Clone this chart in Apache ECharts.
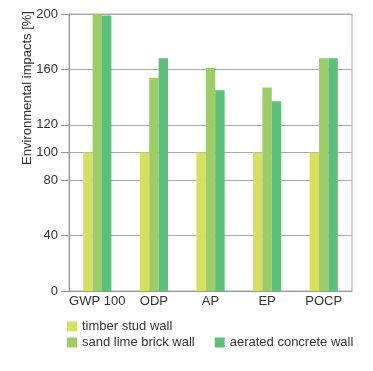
<!DOCTYPE html>
<html><head><meta charset="utf-8">
<script src="https://cdn.jsdelivr.net/npm/echarts@6/dist/echarts.min.js"></script>
<style>html,body{margin:0;padding:0;background:#fff}#c{width:373px;height:371px}</style>
</head><body><div id="c"></div>
<script>
const categories = ['GWP 100', 'ODP', 'AP', 'EP', 'POCP'];
const timberStud = [100, 100, 100, 100, 100];
const sandLime = [200, 154, 161, 147, 168];
const aeratedConcrete = [199, 168, 145, 137, 168];
const yTicks = [0, 40, 80, 100, 120, 160, 200];
const seriesNames = ['timber stud wall', 'sand lime brick wall', 'aerated concrete wall'];
const colors = ['#d6df62', '#9dcc6b', '#5dbf79'];
const FONT = 'Liberation Sans, Arial, sans-serif';

const chart = echarts.init(document.getElementById('c'));
chart.setOption({
  animation: false,
  textStyle: { fontFamily: FONT },
  grid: { left: 69, right: 21, top: 14, bottom: 80, show: true, borderColor: '#aaa', borderWidth: 1 },
  graphic: [{
    type: 'text', x: 27, y: 88, rotation: Math.PI / 2,
    style: { text: 'Environmental impacts [%]', fontSize: 13, fontFamily: FONT, fill: '#333', align: 'center', verticalAlign: 'middle' }
  }],
  legend: [
    { data: [seriesNames[0]], left: 62, top: 315, itemWidth: 10, itemHeight: 10, icon: 'rect', itemGap: 20,
      textStyle: { fontSize: 13, color: '#333', fontFamily: FONT } },
    { data: [seriesNames[1], seriesNames[2]], left: 62, top: 331, itemWidth: 10, itemHeight: 10, icon: 'rect', itemGap: 20,
      textStyle: { fontSize: 13, color: '#333', fontFamily: FONT } }
  ],
  xAxis: {
    type: 'category', data: categories,
    axisTick: { show: false },
    axisLine: { lineStyle: { color: '#999' } },
    axisLabel: { fontSize: 13, color: '#333', margin: 4, interval: 0 }
  },
  yAxis: {
    type: 'value', min: 0, max: 200,
    axisLine: { show: true, lineStyle: { color: '#999' } },
    axisTick: { show: true, length: 8, customValues: yTicks, lineStyle: { color: '#999' } },
    axisLabel: { customValues: yTicks, fontSize: 13, color: '#333', margin: 11 },
    splitLine: { show: true, lineStyle: { color: '#aaa' } }
  },
  series: [
    { name: seriesNames[0], type: 'bar', data: timberStud, barWidth: 9.4, barGap: '0%', itemStyle: { color: colors[0] } },
    { name: seriesNames[1], type: 'bar', data: sandLime, barWidth: 9.4, barGap: '0%', itemStyle: { color: colors[1] } },
    { name: seriesNames[2], type: 'bar', data: aeratedConcrete, barWidth: 9.4, barGap: '0%', itemStyle: { color: colors[2] } }
  ]
});
</script></body></html>
